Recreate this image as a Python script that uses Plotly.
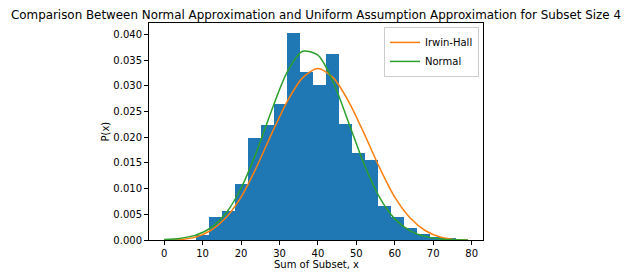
import plotly.graph_objects as go

# Histogram (density)
bin_left = [8.3, 11.68, 15.06, 18.44, 21.82, 25.2, 28.58, 31.96, 35.34, 38.72,
            42.1, 45.48, 48.86, 52.24, 55.62, 59.0, 62.38, 65.76, 69.14, 72.52]
bin_width = 3.38
hist_density = [0.0010, 0.0045, 0.0056, 0.0109, 0.0199, 0.0224, 0.0265, 0.0403, 0.0326, 0.0302,
                0.0362, 0.0226, 0.0170, 0.0156, 0.0066, 0.0045, 0.0024, 0.0011, 0.0006, 0.0002]

# Curves
curve_x = [0, 4, 8, 12, 16, 20, 24, 28, 32, 36, 40, 44, 48, 52, 56, 60, 64, 68, 72, 76, 79]
irwin_hall = [0.0, 0.000067, 0.000533, 0.0018, 0.00427, 0.00833, 0.01413, 0.02073, 0.02693, 0.03153,
              0.03333, 0.03153, 0.02693, 0.02073, 0.01413, 0.00833, 0.00427, 0.0018, 0.000533, 0.000067, 0.000001]
normal = [0.00009, 0.000305, 0.000898, 0.002306, 0.00516, 0.01006, 0.01709, 0.0253, 0.03264, 0.03669,
          0.03594, 0.03068, 0.02282, 0.01479, 0.00836, 0.00411, 0.00176, 0.000658, 0.000214, 0.0000607, 0.0000216]

x_ticks = [0, 10, 20, 30, 40, 50, 60, 70, 80]
y_ticks = [0.0, 0.005, 0.010, 0.015, 0.020, 0.025, 0.030, 0.035, 0.040]

FONT = "DejaVu Sans"
W, H = 632, 278
OFF = 8  # page body margin offset
# plot box in window coords: x 149..483, y 23..240
L, R, T, B = 149 - OFF, W - (483 - OFF), 23 - OFF, H - (240 - OFF)

fig = go.Figure()
fig.add_trace(go.Bar(
    x=[b + bin_width / 2 for b in bin_left], y=hist_density, width=bin_width,
    marker=dict(color="#1f77b4", line=dict(width=0)), showlegend=False, name="hist"))
fig.add_trace(go.Scatter(x=curve_x, y=irwin_hall, mode="lines", name="Irwin-Hall",
                         line=dict(color="#ff7f0e", width=1.5, shape="spline", smoothing=0.8)))
fig.add_trace(go.Scatter(x=curve_x, y=normal, mode="lines", name="Normal",
                         line=dict(color="#2ca02c", width=1.5, shape="spline", smoothing=0.8)))

axis_common = dict(showline=True, linecolor="black", linewidth=1, mirror=True,
                   ticks="outside", ticklen=4, tickcolor="black", tickwidth=1,
                   showgrid=False, zeroline=False, automargin=False,
                   tickfont=dict(family=FONT, size=10, color="black"))

plot_w = W - L - R
plot_h = H - T - B

fig.update_layout(
    width=W, height=H,
    margin=dict(l=L, r=R, t=T, b=B, autoexpand=False),
    paper_bgcolor="white", plot_bgcolor="white",
    bargap=0,
    font=dict(family=FONT, size=10, color="black"),
    title=dict(text="Comparison Between Normal Approximation and Uniform Assumption Approximation for Subset Size 4",
               x=0.5, xref="paper", xanchor="center", y=1 - 6.5 / H, yref="container", yanchor="middle",
               font=dict(family=FONT, size=11.9, color="black"), automargin=False),
    xaxis=dict(range=[-3.95, 82.95], tickvals=x_ticks, ticktext=[str(v) for v in x_ticks],
               **axis_common),
    yaxis=dict(range=[0, 0.0422], tickvals=y_ticks, ticktext=[f"{v:.3f}" for v in y_ticks],
               **axis_common),
    legend=dict(x=0.988, y=0.982, xanchor="right", yanchor="top",
                bgcolor="rgba(255,255,255,0.8)", bordercolor="#cccccc", borderwidth=1,
                font=dict(family=FONT, size=10), itemwidth=30, tracegroupgap=0),
    annotations=[
        dict(text="Sum of Subset, x", xref="paper", yref="paper", x=0.5,
             y=-(264 - 240) / plot_h, xanchor="center", yanchor="middle",
             showarrow=False, font=dict(family=FONT, size=10, color="black")),
        dict(text="P(x)", xref="paper", yref="paper", x=-(149 - 105) / plot_w, y=0.5,
             xanchor="center", yanchor="middle", textangle=-90,
             showarrow=False, font=dict(family=FONT, size=10, color="black")),
    ],
)

fig.write_html("out.html")
